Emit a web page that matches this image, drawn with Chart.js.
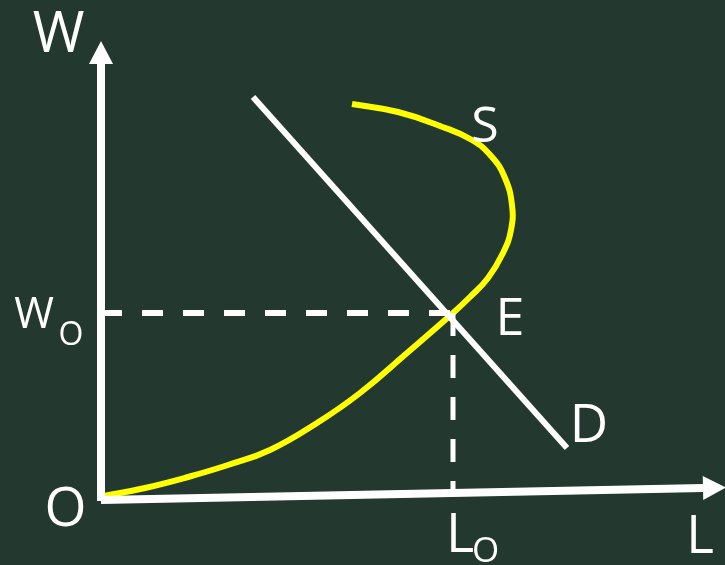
<!DOCTYPE html>
<html>
<head>
<meta charset="utf-8">
<script src="https://cdn.jsdelivr.net/npm/chart.js@4.4.1/dist/chart.umd.min.js"></script>
<style>
    html, body { margin: 0; padding: 0; background: #23392f; }
    #wrap { width: 725px; height: 565px; }
</style>
</head>
<body>
<div id="wrap"><canvas id="laborChart" width="725" height="565"></canvas></div>
<script>
// Axis frame (data units: labour L across, wage W up)
const X_MIN = -10.3, X_MAX = 62.2;
const Y_MIN = -6.7, Y_MAX = 49.8;

// Equilibrium
const L0 = 35.0;
const W0 = 18.5;

// Backward-bending labour supply S (in drawing order)
const supplyL = [24.9, 29.5, 33.7, 36.9, 38.9, 40.2, 40.9, 40.8, 40.0, 38.5, 36.7, 35.0, 30.4, 25.7, 21.4, 16.7, 12.5, 8.5, 4.2, 0.1];
const supplyW = [39.4, 38.6, 37.2, 35.8, 34.1, 32.0, 29.3, 26.8, 24.5, 22.0, 20.1, 18.5, 14.5, 10.5, 7.5, 4.8, 3.3, 2.1, 1.0, 0.2];

// Labour demand D
const demandL = [15.0, 46.4];
const demandW = [40.1, 5.0];

// Axes (last point = base of the arrow head)
const axisWL = [-0.2, -0.2];
const axisWW = [-0.3, 43.4];
const axisLL = [-0.2, 60.0];
const axisLW = [-0.2, 1.0];

// Text labels
const labelText = ['W', 'W', 'O', 'O', 'L', 'O', 'L', 'E', 'S', 'D'];
const labelL    = [-4.45, -6.9, -3.2, -3.75, 35.7, 38.25, 59.7, 40.7, 38.2, 48.6];
const labelW    = [44.6, 17.0, 15.3, -2.8, -5.4, -6.4, -5.5, 16.3, 35.6, 5.6];
const labelSize = [56, 43, 32, 54, 54, 35, 53, 52, 50, 53];

const BG = '#23392f';
const CHALK = '#ffffff';
const YELLOW = '#ffff00';

function toPoints(xs, ys) {
    return xs.map((x, i) => ({ x: x, y: ys[i] }));
}

// fill the board colour
const boardPlugin = {
    id: 'board',
    beforeDraw(chart) {
        const ctx = chart.ctx;
        ctx.save();
        ctx.fillStyle = BG;
        ctx.fillRect(0, 0, chart.width, chart.height);
        ctx.restore();
    }
};

// arrow heads on datasets flagged with arrow: true
const arrowPlugin = {
    id: 'arrows',
    afterDatasetsDraw(chart) {
        const ctx = chart.ctx;
        chart.data.datasets.forEach((ds, i) => {
            if (!ds.arrow) return;
            const pts = chart.getDatasetMeta(i).data;
            const a = pts[pts.length - 2], b = pts[pts.length - 1];
            const ang = Math.atan2(b.y - a.y, b.x - a.x);
            const len = 23, half = 12;
            ctx.save();
            ctx.translate(b.x, b.y);
            ctx.rotate(ang);
            ctx.fillStyle = CHALK;
            ctx.beginPath();
            ctx.moveTo(len, 0);
            ctx.lineTo(0, -half);
            ctx.lineTo(0, half);
            ctx.closePath();
            ctx.fill();
            ctx.restore();
        });
    }
};

// text labels placed through the scales
const labelPlugin = {
    id: 'labels',
    afterDraw(chart) {
        const ctx = chart.ctx;
        const xs = chart.scales.x, ys = chart.scales.y;
        ctx.save();
        ctx.fillStyle = CHALK;
        ctx.textAlign = 'center';
        ctx.textBaseline = 'alphabetic';
        labelText.forEach((t, i) => {
            ctx.font = labelSize[i] + 'px "Open Sans", "DejaVu Sans", sans-serif';
            ctx.fillText(t, xs.getPixelForValue(labelL[i]), ys.getPixelForValue(labelW[i]));
        });
        ctx.restore();
    }
};

const lineBase = { pointRadius: 0, fill: false, clip: false, tension: 0 };

new Chart(document.getElementById('laborChart').getContext('2d'), {
    type: 'line',
    data: {
        datasets: [
            Object.assign({}, lineBase, {
                label: 'W axis',
                data: toPoints(axisWL, axisWW),
                borderColor: CHALK,
                borderWidth: 8,
                arrow: true
            }),
            Object.assign({}, lineBase, {
                label: 'L axis',
                data: toPoints(axisLL, axisLW),
                borderColor: CHALK,
                borderWidth: 8,
                arrow: true
            }),
            Object.assign({}, lineBase, {
                label: 'W0 guide',
                data: toPoints([-0.2, L0], [W0, W0]),
                borderColor: CHALK,
                borderWidth: 6,
                borderDash: [21, 20]
            }),
            Object.assign({}, lineBase, {
                label: 'L0 guide',
                data: toPoints([L0, L0], [W0, 0.5]),
                borderColor: CHALK,
                borderWidth: 5,
                borderDash: [23, 19]
            }),
            Object.assign({}, lineBase, {
                label: 'D',
                data: toPoints(demandL, demandW),
                borderColor: CHALK,
                borderWidth: 6
            }),
            Object.assign({}, lineBase, {
                label: 'S',
                data: toPoints(supplyL, supplyW),
                borderColor: YELLOW,
                borderWidth: 6,
                tension: 0.45,
                borderJoinStyle: 'round'
            })
        ]
    },
    options: {
        responsive: false,
        animation: false,
        layout: { padding: 0 },
        plugins: {
            legend: { display: false },
            tooltip: { enabled: false }
        },
        scales: {
            x: { type: 'linear', min: X_MIN, max: X_MAX, display: false },
            y: { type: 'linear', min: Y_MIN, max: Y_MAX, display: false }
        }
    },
    plugins: [boardPlugin, arrowPlugin, labelPlugin]
});
</script>
</body>
</html>
